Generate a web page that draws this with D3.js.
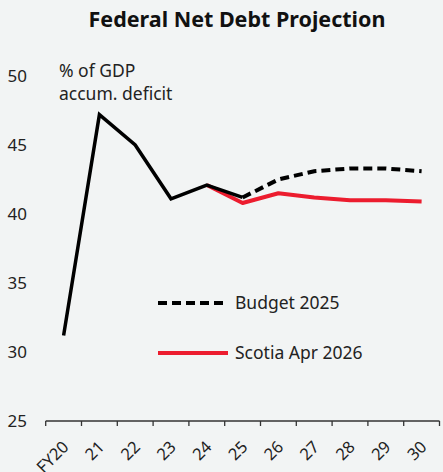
<!DOCTYPE html>
<html>
<head>
<meta charset="utf-8">
<script src="https://cdn.jsdelivr.net/npm/d3@7"></script>
<style>
  html, body { margin: 0; padding: 0; background: #f2f4f4; }
  svg { display: block; font-family: "Noto Sans", "Open Sans", sans-serif; }
</style>
</head>
<body>
<svg id="chart" width="443" height="472"></svg>
<script>
// Fiscal years on the x axis
const years = ["FY20", "21", "22", "23", "24", "25", "26", "27", "28", "29", "30"];
// Federal net debt, % of GDP (accumulated deficit)
const actualYears = ["FY20", "21", "22", "23", "24", "25"];
const actualValues = [31.2, 47.2, 45.0, 41.1, 42.1, 41.2];
const budgetYears = ["25", "26", "27", "28", "29", "30"];
const budgetValues = [41.2, 42.5, 43.1, 43.3, 43.3, 43.1];
const scotiaYears = ["24", "25", "26", "27", "28", "29", "30"];
const scotiaValues = [42.1, 40.8, 41.5, 41.2, 41.0, 41.0, 40.9];
const yTicks = [25, 30, 35, 40, 45, 50];

const svg = d3.select("#chart");
const x = d3.scaleBand().domain(years).range([45.7, 439.5]).padding(0);
const y = d3.scaleLinear().domain([25, 50]).range([421, 76]);
const cx = d => x(d) + x.bandwidth() / 2;

// Title
svg.append("text")
  .attr("x", 237).attr("y", 27)
  .attr("text-anchor", "middle")
  .attr("font-size", 21.5).attr("font-weight", 700).attr("fill", "#111")
  .text("Federal Net Debt Projection");

// Y axis labels (no axis line)
svg.append("g").selectAll("text").data(yTicks).join("text")
  .attr("x", 27).attr("y", d => y(d) + 6)
  .attr("text-anchor", "end")
  .attr("font-size", 17).attr("fill", "#222")
  .text(d => d);

// X axis: baseline with ticks at category boundaries
const axisG = svg.append("g");
axisG.append("line")
  .attr("x1", x.range()[0]).attr("x2", x.range()[1])
  .attr("y1", y(25)).attr("y2", y(25))
  .attr("stroke", "#333").attr("stroke-width", 1.3);
const edges = years.map(d => x(d)).concat([x.range()[1]]);
axisG.selectAll("line.tick").data(edges).join("line")
  .attr("class", "tick")
  .attr("x1", d => d).attr("x2", d => d)
  .attr("y1", y(25)).attr("y2", y(25) + 5)
  .attr("stroke", "#333").attr("stroke-width", 1.3);
axisG.selectAll("text").data(years).join("text")
  .attr("text-anchor", "end")
  .attr("font-size", 16.5).attr("fill", "#222")
  .attr("transform", d => `translate(${cx(d) + 6},${y(25) + 27}) rotate(-45)`)
  .text(d => d);

// Unit label
svg.append("text").attr("x", 59).attr("y", 77)
  .attr("font-size", 17.5).attr("fill", "#222").text("% of GDP");
svg.append("text").attr("x", 59).attr("y", 100)
  .attr("font-size", 17.5).attr("fill", "#222").text("accum. deficit");

const line = d3.line().x(d => cx(d[0])).y(d => y(d[1]));

// Scotia projection
svg.append("path")
  .datum(d3.zip(scotiaYears, scotiaValues))
  .attr("d", line)
  .attr("fill", "none").attr("stroke", "#ec1c2e").attr("stroke-width", 4)
  .attr("stroke-linejoin", "round");

// Historical (solid) path
svg.append("path")
  .datum(d3.zip(actualYears, actualValues))
  .attr("d", line)
  .attr("fill", "none").attr("stroke", "#000").attr("stroke-width", 3.5)
  .attr("stroke-linejoin", "miter");

// Budget 2025 projection (dashed)
svg.append("path")
  .datum(d3.zip(budgetYears, budgetValues))
  .attr("d", line)
  .attr("fill", "none").attr("stroke", "#000").attr("stroke-width", 4)
  .attr("stroke-dasharray", "9,5");

// Legend
const legend = [
  { label: "Budget 2025", color: "#000", dash: "9,5", width: 4, y: 303 },
  { label: "Scotia Apr 2026", color: "#ec1c2e", dash: null, width: 4, y: 353 }
];
const lg = svg.append("g");
lg.selectAll("line").data(legend).join("line")
  .attr("x1", 158).attr("x2", 228)
  .attr("y1", d => d.y).attr("y2", d => d.y)
  .attr("stroke", d => d.color).attr("stroke-width", d => d.width)
  .attr("stroke-dasharray", d => d.dash);
lg.selectAll("text").data(legend).join("text")
  .attr("x", 235).attr("y", d => d.y + 6)
  .attr("font-size", 17.5).attr("fill", "#222")
  .text(d => d.label);
</script>
</body>
</html>
